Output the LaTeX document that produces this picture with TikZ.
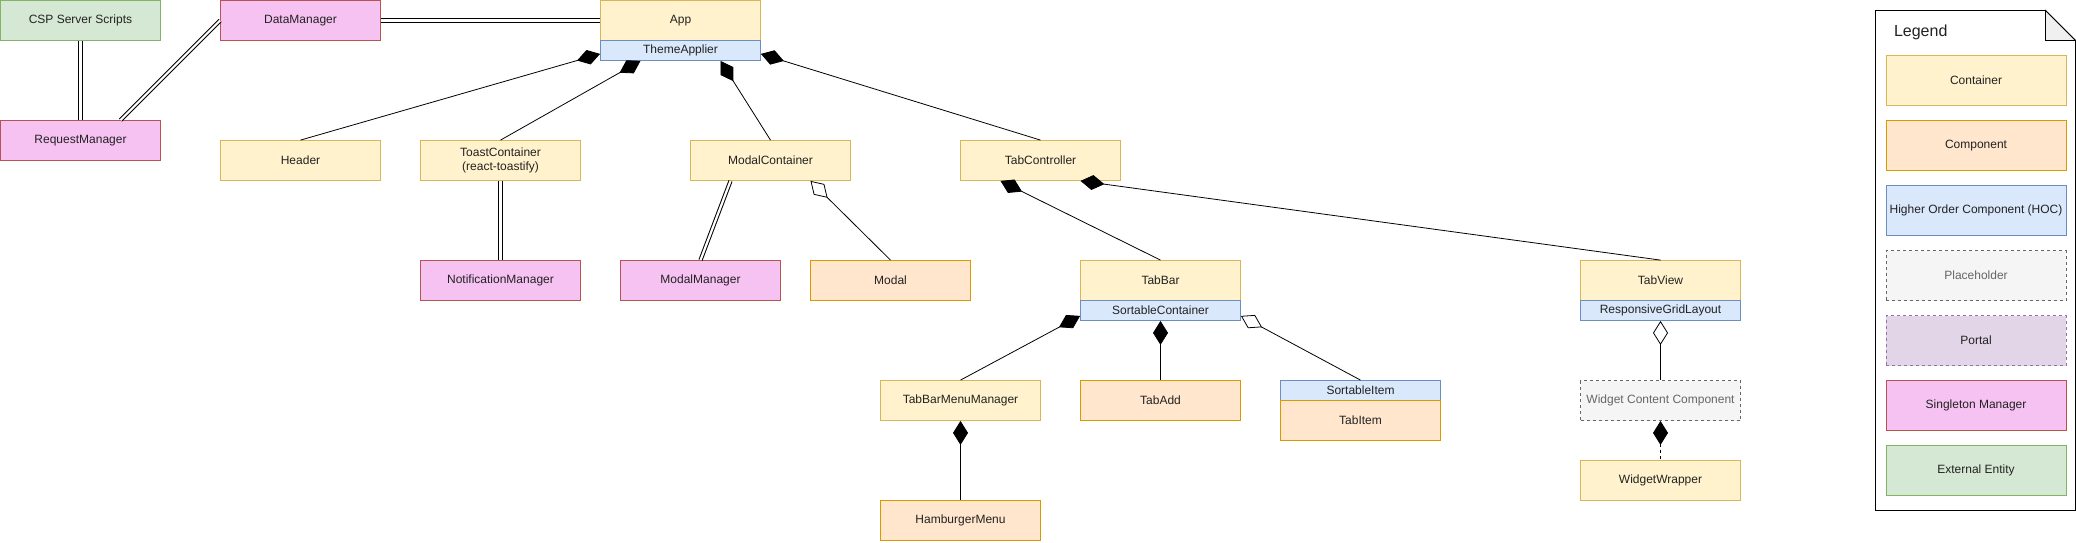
\documentclass[tikz,border=0pt]{standalone}
\usepackage{fontspec}
\setmainfont{Liberation Sans}
\usetikzlibrary{arrows.meta, calc}

\definecolor{containerfill}{HTML}{FFF2CC}
\definecolor{containerline}{HTML}{D6B656}
\definecolor{componentfill}{HTML}{FFE6CC}
\definecolor{componentline}{HTML}{D79B00}
\definecolor{hocfill}{HTML}{DAE8FC}
\definecolor{hocline}{HTML}{6C8EBF}
\definecolor{placefill}{HTML}{F5F5F5}
\definecolor{placeline}{HTML}{666666}
\definecolor{portalfill}{HTML}{E1D5E7}
\definecolor{portalline}{HTML}{9673A6}
\definecolor{singlefill}{HTML}{F6C2F2}
\definecolor{singleline}{HTML}{B85450}
\definecolor{externalfill}{HTML}{D5E8D4}
\definecolor{externalline}{HTML}{82B366}
\definecolor{textdark}{HTML}{222222}
\definecolor{foldgray}{HTML}{F0F0F0}

\begin{document}
\begin{tikzpicture}[x=1pt, y=-1pt,
    font=\fontsize{12}{14}\selectfont,
    box/.style={draw, line width=0.8pt, minimum width=160pt, minimum height=40pt,
      inner sep=0pt, align=center, text=textdark},
    bar/.style={minimum height=20pt},
    container/.style={box, fill=containerfill, draw=containerline},
    component/.style={box, fill=componentfill, draw=componentline},
    hoc/.style={box, fill=hocfill, draw=hocline},
    placeholder/.style={box, dashed, fill=placefill, draw=placeline, text=placeline},
    portal/.style={box, dashed, fill=portalfill, draw=portalline},
    singleton/.style={box, fill=singlefill, draw=singleline},
    external/.style={box, fill=externalfill, draw=externalline},
    link/.style={draw=black, double=white, double distance=2.2pt, line width=1pt},
    compose/.style={line width=0.8pt, >={Diamond[length=24pt, width=15pt]}, <-},
    aggreg/.style={line width=0.8pt, >={Diamond[open, fill=white, length=24pt, width=15pt]}, <-},
  ]
  \useasboundingbox (-0.5,-0.5) rectangle (2075.5,541.5);

  % top row
  \node[external] (csp) at (80,20) {CSP Server Scripts};
  \node[singleton] (datamgr) at (300,20) {DataManager};
  \node[container] (app) at (680,20) {App};
  \node[hoc, bar] (theme) at (680,50) {ThemeApplier};
  \node[singleton] (reqmgr) at (80,140) {RequestManager};

  % children of App
  \node[container] (header) at (300,160) {Header};
  \node[container] (toast) at (500,160) {ToastContainer\\(react-toastify)};
  \node[container] (modalc) at (770,160) {ModalContainer};
  \node[container] (tabctrl) at (1040,160) {TabController};

  \node[singleton] (notif) at (500,280) {NotificationManager};
  \node[singleton] (modalmgr) at (700,280) {ModalManager};
  \node[component] (modal) at (890,280) {Modal};

  % tabs
  \node[container] (tabbar) at (1160,280) {TabBar};
  \node[hoc, bar] (sortc) at (1160,310) {SortableContainer};
  \node[container] (tabview) at (1660,280) {TabView};
  \node[hoc, bar] (grid) at (1660,310) {ResponsiveGridLayout};

  \node[container] (tbmm) at (960,400) {TabBarMenuManager};
  \node[component] (tabadd) at (1160,400) {TabAdd};
  \node[hoc, bar] (sortitem) at (1360,390) {SortableItem};
  \node[component] (tabitem) at (1360,420) {TabItem};
  \node[placeholder] (widget) at (1660,400) {Widget Content Component};
  \node[container] (wrapper) at (1660,480) {WidgetWrapper};
  \node[component] (hamburger) at (960,520) {HamburgerMenu};

  % connections
  \draw[link] (csp.south) -- (reqmgr.north);
  \draw[link] (datamgr.west) -- ([xshift=40pt]reqmgr.north);
  \draw[link] (datamgr.east) -- (app.west);
  \draw[link] (toast.south) -- (notif.north);
  \draw[link] ([xshift=-40pt]modalc.south) -- (modalmgr.north);
  \draw[aggreg] ([xshift=40pt]modalc.south) -- (modal.north);

  \draw[compose] ([yshift=7pt]theme.south west) -- (header.north);
  \draw[compose] ([xshift=-40pt]theme.south) -- (toast.north);
  \draw[compose] ([xshift=40pt]theme.south) -- (modalc.north);
  \draw[compose] ([yshift=7pt]theme.south east) -- (tabctrl.north);

  \draw[compose] ([xshift=-40pt]tabctrl.south) -- (tabbar.north);
  \draw[compose] ([xshift=40pt]tabctrl.south) -- (tabview.north);
  \draw[compose] ([yshift=5pt]sortc.south west) -- (tbmm.north);
  \draw[compose] (sortc) -- (tabadd);
  \draw[aggreg] ([yshift=5pt]sortc.south east) -- (sortitem.north);
  \draw[compose] (tbmm) -- (hamburger);
  \draw[aggreg] (grid) -- (widget);
  \draw[compose, dashed] (widget) -- (wrapper);

  % legend
  \draw[line width=0.9pt, fill=white] (1875,10) -- (2045,10) -- (2075,40) -- (2075,510) -- (1875,510) -- cycle;
  \draw[line width=0.9pt, fill=foldgray] (2045,10) -- (2045,40) -- (2075,40) -- cycle;
  \node[anchor=west, font=\fontsize{16}{18}\selectfont, text=textdark] (legendtitle) at (1890,32) {Legend};
  \foreach \kind/\label [count=\i] in {container/Container, component/Component,
      hoc/Higher Order Component (HOC), placeholder/Placeholder, portal/Portal,
      singleton/Singleton Manager, external/External Entity}
    \node[\kind, minimum width=180pt, minimum height=50pt] (legend\i) at (1975.5,15+65*\i) {\label};
\end{tikzpicture}
\end{document}
